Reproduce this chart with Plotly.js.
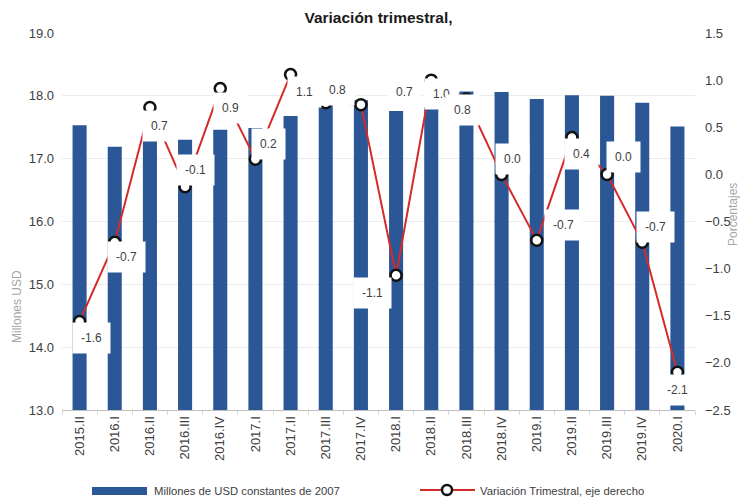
<!DOCTYPE html>
<html>
<head>
<meta charset="utf-8">
<script src="https://cdn.plot.ly/plotly-3.0.1.min.js"></script>
<style>html,body{margin:0;padding:0;background:#fff;}#chart{width:740px;height:500px;}</style>
</head>
<body>
<div id="chart"></div>
<script>
// ---- data ----
const categories = ["2015.II","2016.I","2016.II","2016.III","2016.IV","2017.I","2017.II","2017.III","2017.IV","2018.I","2018.II","2018.III","2018.IV","2019.I","2019.II","2019.III","2019.IV","2020.I"];
const millonesUSD = [17.53,17.19,17.30,17.30,17.46,17.49,17.68,17.95,17.93,17.76,17.82,18.07,18.06,17.95,18.01,18.00,17.89,17.51];
const variacionTrimestral = [-1.56,-0.72,0.71,-0.13,0.91,0.16,1.06,0.76,0.74,-1.07,1.00,0.80,0.00,-0.70,0.39,0.00,-0.72,-2.10];
const seriesNames = ["Millones de USD constantes de 2007","Variación Trimestral, eje derecho"];
const chartTitle = "Variación trimestral,";
const leftTitle = "Millones USD";
const rightTitle = "Porcentajes";

// ---- label placement offsets (pixels: right, down) ----
const labelOffsets = [[12,17],[12,15],[10,19],[10,-17],[10,19],[13,-15],[14,18],[12,-13],[44,-13],[-24,18],[10,14],[-4,11],[11,-15],[27,-15],[10,16],[16,-17],[13,-15],[0,18]];

const FONT = "'Liberation Sans Narrow', 'Liberation Sans', Arial, sans-serif";
const BLUE = "#2b5797";
const RED = "#d42a2a";

// plot area in pixels
const L = 62, R = 45, T = 33, B = 90, W = 740, H = 500;
const PW = W - L - R, PH = H - T - B;
const px = x => (x - L) / PW;
const py = y => (H - B - y) / PH;

const traces = [
  {type: "bar", x: categories, y: millonesUSD, name: seriesNames[0], marker: {color: BLUE}, yaxis: "y", hoverinfo: "x+y"},
  {type: "scatter", mode: "lines+markers", x: categories, y: variacionTrimestral, name: seriesNames[1], yaxis: "y2",
   line: {color: RED, width: 2}, marker: {size: 11, color: "#ffffff", line: {color: "#111111", width: 2.5}}}
];

const fmt = v => { const s = v.toFixed(1); return s === "-0.0" ? "0.0" : s; };

const annotations = variacionTrimestral.map((v, i) => ({
  x: categories[i], y: v, xref: "x", yref: "y2", text: fmt(v), showarrow: false,
  xshift: labelOffsets[i][0], yshift: -labelOffsets[i][1],
  bgcolor: "#ffffff", borderpad: 8, font: {family: FONT, size: 12, color: "#404040"}
}));

annotations.push(
  {text: leftTitle, xref: "paper", yref: "paper", x: px(17), y: py(307), xanchor: "center", yanchor: "middle", textangle: -90, showarrow: false,
   font: {family: FONT, size: 12, color: "#a6a6a6"}},
  {text: rightTitle, xref: "paper", yref: "paper", x: px(733), y: py(215), xanchor: "center", yanchor: "middle", textangle: -90, showarrow: false,
   font: {family: FONT, size: 12, color: "#a6a6a6"}},
  {text: seriesNames[0], xref: "paper", yref: "paper", x: px(152), y: py(491), xanchor: "left", yanchor: "middle", showarrow: false,
   font: {family: FONT, size: 11.3, color: "#404040"}},
  {text: seriesNames[1], xref: "paper", yref: "paper", x: px(478), y: py(491), xanchor: "left", yanchor: "middle", showarrow: false,
   font: {family: FONT, size: 11.3, color: "#404040"}}
);

const shapes = [
  {type: "rect", xref: "paper", yref: "paper", x0: px(92), x1: px(147), y0: py(495), y1: py(487), fillcolor: BLUE, line: {width: 0}},
  {type: "line", xref: "paper", yref: "paper", x0: px(420), x1: px(475), y0: py(490), y1: py(490), line: {color: RED, width: 2}},
  {type: "circle", xref: "paper", yref: "paper", xsizemode: "pixel", ysizemode: "pixel", xanchor: px(447), yanchor: py(490),
   x0: -5, x1: 5, y0: -5, y1: 5, fillcolor: "#ffffff", line: {color: "#111111", width: 2.5}}
];

const layout = {
  width: W, height: H,
  margin: {l: L, r: R, t: T, b: B, pad: 0},
  paper_bgcolor: "#ffffff", plot_bgcolor: "#ffffff",
  showlegend: false,
  bargap: 0.6,
  font: {family: FONT, size: 12, color: "#404040"},
  title: {text: chartTitle, x: 0.5, xref: "paper", y: 0.965, yanchor: "middle",
          font: {family: FONT, size: 15.5, color: "#1a1a1a", weight: "bold"}},
  xaxis: {type: "category", range: [-0.5, categories.length - 0.5], autorange: false, tickangle: -90, showline: true, linecolor: "#bfbfbf", linewidth: 1,
          ticks: "outside", tickson: "boundaries", ticklen: 4, tickcolor: "#d9d9d9",
          showgrid: false, tickfont: {family: FONT, size: 13, color: "#404040"}, fixedrange: true},
  yaxis: {range: [13, 19], autorange: false, dtick: 1, tickformat: ".1f", showgrid: true, gridcolor: "#ececec", zeroline: false,
          showline: false, ticks: "", ticklabelstandoff: 7, tickfont: {family: FONT, size: 13, color: "#404040"}},
  yaxis2: {range: [-2.5, 1.5], autorange: false, dtick: 0.5, tickformat: ".1f", overlaying: "y", side: "right", showgrid: false,
           zeroline: false, showline: false, ticks: "", ticklabelstandoff: 9, tickfont: {family: FONT, size: 13, color: "#404040"}},
  annotations: annotations,
  shapes: shapes
};

Plotly.newPlot("chart", traces, layout, {displayModeBar: false, staticPlot: true});
</script>
</body>
</html>
